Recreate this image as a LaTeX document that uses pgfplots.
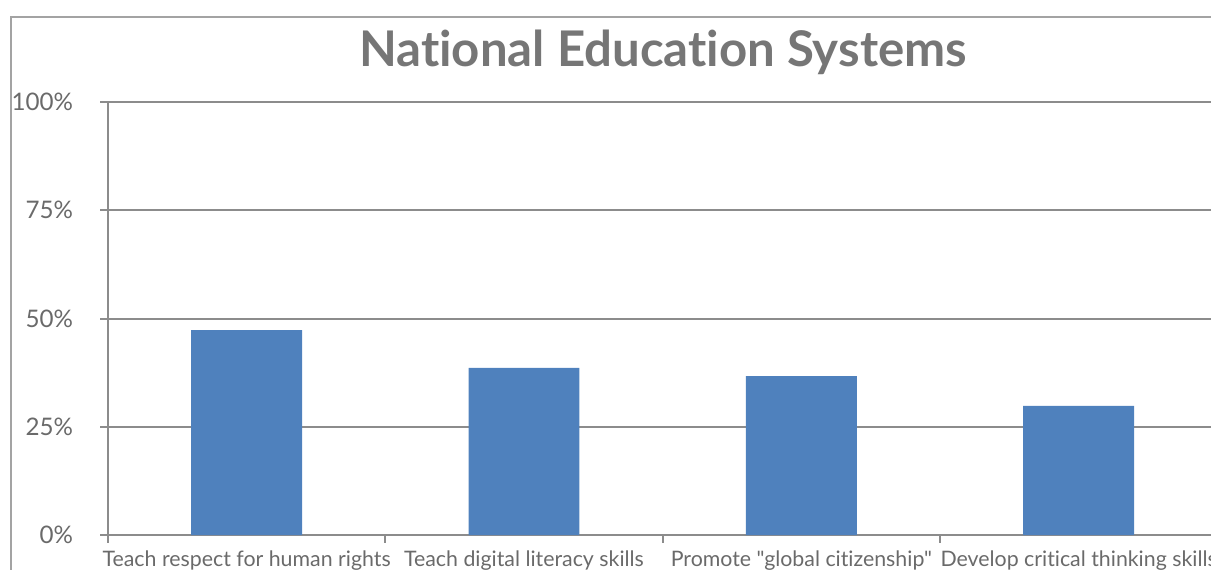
\documentclass[border=0pt]{standalone}
\usepackage{pgfplots}
\pgfplotsset{compat=1.18}
\usepackage{fontspec}
\setmainfont{Lato}[Ligatures={TeXOff,NoCommon}]
\definecolor{barblue}{HTML}{4F81BD}
\definecolor{gridgray}{HTML}{8C8C8C}
\definecolor{titlegray}{HTML}{767676}
\definecolor{labelgray}{HTML}{6A6A6A}
\begin{document}
\begin{tikzpicture}[x=0.6pt,y=0.6pt]
\useasboundingbox (0,0) rectangle (1211,569);
\clip (0,0) rectangle (1211,569);
\draw[gridgray!80, line width=0.8pt] (11,552) rectangle (1400,-100);
\node[font=\bfseries\fontsize{29.5}{34}\selectfont, text=titlegray, anchor=base] at (663,502) {National Education Systems};
\begin{axis}[
  at={(64.8pt,20.4pt)}, anchor=south west,
  scale only axis, width=665.6pt, height=259.8pt,
  xmin=-0.5, xmax=3.5, ymin=0, ymax=100,
  axis x line*=bottom, axis y line*=left,
  axis line style={gridgray, line width=1.2pt},
  ymajorgrids, grid style={gridgray, line width=1.2pt},
  ytick={0,25,50,75,100},
  yticklabels={0\%,25\%,50\%,75\%,100\%},
  xtick={-0.5,0.5,1.5,2.5,3.5},
  xticklabels={},
  extra x ticks={0,1,2,3},
  extra x tick labels={Teach respect for human rights, Teach digital literacy skills, Promote "global citizenship", Develop critical thinking skills},
  extra x tick style={major tick length=0pt, grid=none},
  tick align=outside,
  major tick length=4.5pt,
  tick style={gridgray, line width=1.2pt},
  yticklabel style={font=\fontsize{14.5}{16}\selectfont, text=labelgray, xshift=-13pt},
  xticklabel style={font=\fontsize{12.8}{15}\selectfont, text=labelgray, yshift=-6pt},
  /pgf/number format/assume math mode=true,
  clip=false,
]
\addplot[ybar, bar width=0.4, fill=barblue, draw=none] coordinates {(0,47.3) (1,38.6) (2,36.7) (3,29.8)};
\end{axis}
\end{tikzpicture}
\end{document}
